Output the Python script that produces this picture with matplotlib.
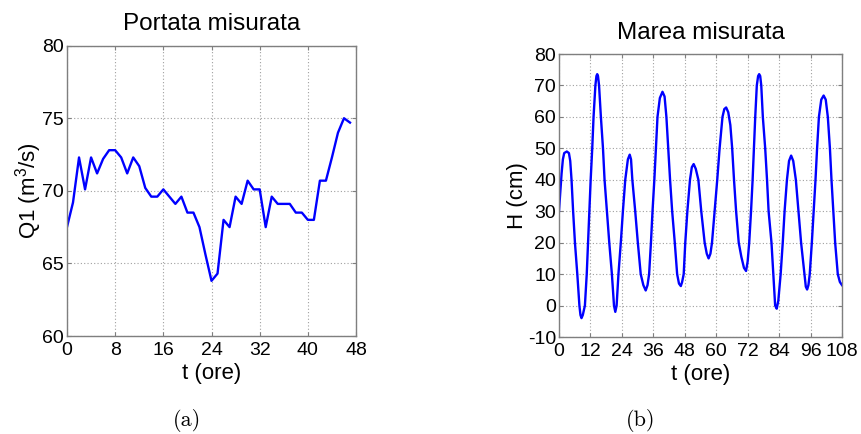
import matplotlib.pyplot as plt

# portata (Q1) - hourly values
t_portata = list(range(48))
q_portata = [67.5, 69.2, 72.3, 70.1, 72.3, 71.2, 72.2, 72.8, 72.8, 72.3,
             71.2, 72.3, 71.7, 70.2, 69.6, 69.6, 70.1, 69.6, 69.1, 69.6,
             68.5, 68.5, 67.5, 65.6, 63.8, 64.3, 68.0, 67.5, 69.6, 69.1,
             70.7, 70.1, 70.1, 67.5, 69.6, 69.1, 69.1, 69.1, 68.5, 68.5,
             68.0, 68.0, 70.7, 70.7, 72.3, 74.0, 75.0, 74.7]

# marea (H)
t_marea = [0, 1, 1.5, 2, 3, 3.8, 4.3, 4.8, 5.4, 6.1, 7, 7.8, 8.2, 8.6, 9.1,
           9.9, 10.6, 11.1, 11.6, 12.1, 12.7, 13.2, 13.9, 14.3, 14.6, 14.9,
           15.3, 16, 16.8, 17.4, 18.3, 19.2, 20.2, 21, 21.5, 22, 22.7, 23.6,
           24.4, 25.3, 26.3, 27, 27.5, 28, 29.1, 30.1, 31.2, 32.2, 33.1,
           33.8, 34.4, 35.1, 35.7, 36.4, 37, 37.6, 38.5, 39.5, 40.3, 41, 41.7,
           42.4, 43.2, 44.2, 45.1, 45.8, 46.5, 47, 47.6, 48.2, 49, 50, 50.7,
           51.4, 52.2, 53.2, 54.3, 55.6, 56.4, 57.1, 57.8, 58.4, 59.4, 60.4,
           61.3, 62.4, 63.1, 63.8, 64.6, 65.4, 66.1, 66.8, 67.6, 68.6, 69.6,
           70.6, 71.4, 72, 72.6, 73.3, 73.9, 74.4, 74.9, 75.5, 76.0, 76.4,
           76.8, 77.2, 77.8, 78.7, 79.4, 80, 81.1, 81.8, 82.5, 83.1, 83.7,
           84.6, 85.4, 86.1, 87, 87.8, 88.6, 89.4, 90.4, 91.4, 92.4, 93.7,
           94.2, 94.7, 95.2, 95.7, 96.5, 97.2, 97.9, 98.5, 99.2, 100.1, 101,
           101.8, 102.6, 103.4, 104, 104.7, 105.4, 106.4, 107.2, 108]
h_marea = [30, 42, 46.5, 48.5, 49, 48.5, 46, 40, 30, 20, 10, 0, -3, -4, -3,
           0, 10, 20, 30, 40, 50, 60, 70, 73, 73.6, 73,
           70, 60, 50, 40, 30, 20, 10, 0, -2, 0, 10, 20,
           30, 40, 46.5, 48, 46.5, 40, 30, 20, 10, 6.5, 4.8,
           6.5, 10, 20, 30, 40, 50, 60, 66, 68, 66.5, 60, 50,
           40, 30, 20, 10, 7, 6.2, 7.5, 10, 20, 30, 40, 44,
           45, 43.5, 40, 30, 20, 16.5, 15, 16.5, 20, 30, 40,
           50, 60, 62.5, 63, 61.5, 57.4, 50, 40, 30, 20, 15.5,
           12, 11, 14, 20, 30, 40, 50, 60, 70, 73, 73.6,
           73, 70, 60, 50, 40, 30, 20, 10, 0, -1, 1.5,
           10, 20, 30, 40, 46, 47.7, 46, 40, 30, 20, 10,
           6, 5.1, 6.5, 10, 20, 30, 40, 50, 60, 65.5, 66.8,
           65.5, 60, 50, 40, 30, 20, 10, 7.5, 6.5]

plt.rcParams['font.family'] = ['Liberation Sans', 'DejaVu Sans']
plt.rcParams['mathtext.fontset'] = 'custom'
plt.rcParams['mathtext.rm'] = 'Liberation Sans'
plt.rcParams['axes.unicode_minus'] = False

fig = plt.figure(figsize=(8.61, 4.34), dpi=100)
ax1 = fig.add_axes([0.0778, 0.2258, 0.3357, 0.669])
ax2 = fig.add_axes([0.6492, 0.2235, 0.3287, 0.652])

blue = (0, 0, 1)


def style(ax):
    for s in ax.spines.values():
        s.set_color('#7f7f7f')
        s.set_linewidth(1.0)
    ax.tick_params(direction='in', length=3, color='#7f7f7f',
                   labelsize=14, pad=2, top=True, right=True)
    ax.tick_params(axis='x', pad=4)
    ax.grid(True, linestyle=(0, (1, 2)), color='#a0a0a0', linewidth=0.8)


ax1.plot(t_portata, q_portata, color=blue, linewidth=1.7)
ax1.set_xlim(0, 48)
ax1.set_ylim(60, 80)
ax1.set_xticks(range(0, 49, 8))
ax1.set_yticks(range(60, 81, 5))
style(ax1)
ax1.set_title('Portata misurata', fontsize=17.5, pad=11)
ax1.set_xlabel('t (ore)', fontsize=16, labelpad=3)
ax1.set_ylabel(r'Q1 (m$^3$/s)', fontsize=16, labelpad=-1)

ax2.plot(t_marea, h_marea, color=blue, linewidth=1.7)
ax2.set_xlim(0, 108)
ax2.set_ylim(-10, 80)
ax2.set_xticks(range(0, 109, 12))
ax2.set_yticks(range(-10, 81, 10))
style(ax2)
ax2.set_title('Marea misurata', fontsize=17.5, pad=11)
ax2.set_xlabel('t (ore)', fontsize=16, labelpad=3)
ax2.set_ylabel('H (cm)', fontsize=16, labelpad=0)

fig.text(0.217, 0.030, '(a)', family='cmr10', fontsize=16,
         ha='center', va='center')
fig.text(0.744, 0.030, '(b)', family='cmr10', fontsize=16,
         ha='center', va='center')

fig.savefig('out.png', dpi=100)
